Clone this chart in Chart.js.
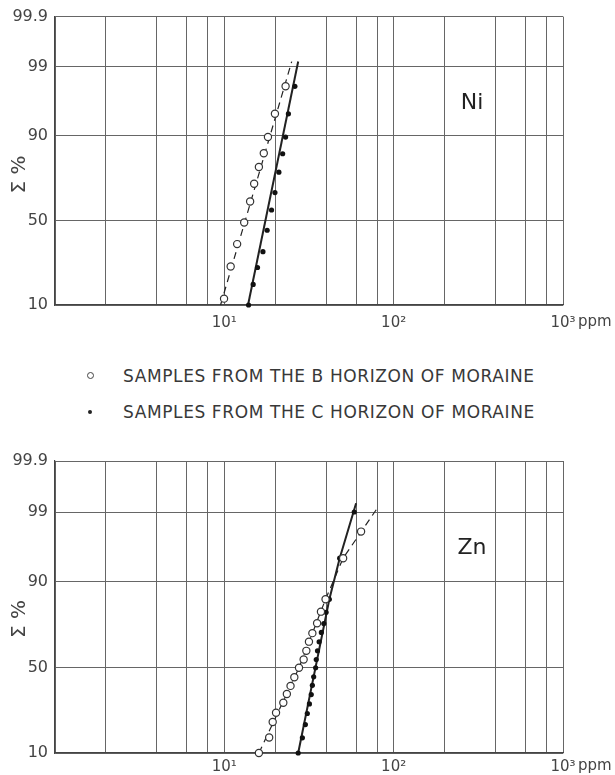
<!DOCTYPE html>
<html lang="en">
<head>
<meta charset="utf-8">
<title>Ni and Zn in moraine</title>
<style>
    body { margin: 0; background: #fff; width: 615px; height: 775px; position: relative; overflow: hidden; font-family: "DejaVu Sans", sans-serif; }
    canvas { position: absolute; left: 0; }
    #niChart { top: 0; }
    #znChart { top: 440px; }
    .row { position: absolute; left: 123px; white-space: nowrap; font-size: 17px; line-height: 20px; letter-spacing: 0.6px; color: #383838; }
    .mark { position: absolute; box-sizing: border-box; border-radius: 50%; }
</style>
</head>
<body>

<canvas id="niChart" width="615" height="340"></canvas>

<div class="mark" style="left:86.5px; top:371.5px; width:7px; height:7px; border:1.1px solid #444; background:#fff;"></div>
<div class="row" style="top:366px;">SAMPLES FROM THE B HORIZON OF MORAINE</div>
<div class="mark" style="left:88px; top:410px; width:4px; height:4px; background:#222;"></div>
<div class="row" style="top:402px;">SAMPLES FROM THE C HORIZON OF MORAINE</div>

<canvas id="znChart" width="615" height="335"></canvas>

<script src="https://cdn.jsdelivr.net/npm/chart.js"></script>
<script>
    // axes
    var xGrid = [1, 2, 4, 6, 8, 10, 20, 40, 60, 80, 100, 200, 400, 600, 800, 1000];
    var xTickText = { 10: '10¹', 100: '10²', 1000: '10³' };
    var yTicks = [10, 50, 90, 99, 99.9];
    var yTickText = ['10', '50', '90', '99', '99.9'];

    // Ni, B horizon (open circles) and C horizon (dots): ppm vs cumulative %
    var niB_ppm = [9.96, 10.9, 11.9, 13.1, 14.2, 15.0, 16.0, 17.1, 18.1, 19.9, 23.0];
    var niB_pct = [11.8, 24.3, 36.0, 48.8, 61.3, 71.1, 79.1, 84.6, 89.7, 94.7, 97.9];
    var niC_ppm = [13.9, 14.8, 15.7, 16.9, 17.9, 19.0, 19.9, 21.0, 22.1, 23.0, 23.9, 26.1];
    var niC_pct = [10, 16.6, 23.8, 31.8, 44.1, 56.3, 66.4, 76.8, 84.4, 89.7, 94.7, 97.9];
    var niB_line_ppm = [9.5, 25.0];
    var niB_line_pct = [10, 99.2];
    var niC_line_ppm = [13.8, 27.3];
    var niC_line_pct = [10, 99.2];

    // Zn
    var znB_ppm = [16.0, 18.4, 19.3, 20.2, 22.3, 23.4, 24.6, 25.9, 27.6, 29.4, 30.5, 31.6, 33.1, 35.3, 37.2, 39.6, 50.3, 64.2];
    var znB_pct = [10, 14.7, 20.7, 24.9, 29.8, 34.5, 39.1, 44.1, 49.8, 54.7, 59.8, 65.0, 69.6, 74.6, 79.8, 84.6, 94.9, 97.9];
    var znC_ppm = [27.3, 28.9, 30.1, 30.9, 31.8, 32.6, 33.1, 33.7, 34.6, 34.9, 35.5, 36.3, 37.4, 38.7, 39.9, 41.7, 48.0, 58.5];
    var znC_pct = [10, 14.6, 19.6, 24.5, 29.2, 34.2, 39.4, 44.4, 49.8, 54.7, 59.8, 64.9, 70.0, 74.4, 79.5, 84.6, 94.9, 99.0];
    var znB_line_ppm = [16.0, 27.6, 39.6, 50.3, 81.3];
    var znB_line_pct = [10, 49.8, 84.6, 94.9, 99.2];
    var znC_line_ppm = [27.3, 41.7, 48.0, 60.0];
    var znC_line_pct = [10, 84.6, 94.9, 99.3];

    // inverse normal cdf (Acklam) -> probability paper y
    function probit(pct) {
        var p = pct / 100;
        var a = [-3.969683028665376e+01, 2.209460984245205e+02, -2.759285104469687e+02, 1.383577518672690e+02, -3.066479806614716e+01, 2.506628277459239e+00];
        var b = [-5.447609879822406e+01, 1.615858368580409e+02, -1.556989798598866e+02, 6.680131188771972e+01, -1.328068155288572e+01];
        var c = [-7.784894002430293e-03, -3.223964580411365e-01, -2.400758277161838e+00, -2.549732539343734e+00, 4.374664141464968e+00, 2.938163982698783e+00];
        var d = [7.784695709041462e-03, 3.224671290700398e-01, 2.445134137142996e+00, 3.754408661907416e+00];
        var q, r;
        if (p < 0.02425) {
            q = Math.sqrt(-2 * Math.log(p));
            return (((((c[0]*q+c[1])*q+c[2])*q+c[3])*q+c[4])*q+c[5]) / ((((d[0]*q+d[1])*q+d[2])*q+d[3])*q+1);
        }
        if (p > 1 - 0.02425) {
            q = Math.sqrt(-2 * Math.log(1 - p));
            return -(((((c[0]*q+c[1])*q+c[2])*q+c[3])*q+c[4])*q+c[5]) / ((((d[0]*q+d[1])*q+d[2])*q+d[3])*q+1);
        }
        q = p - 0.5; r = q * q;
        return (((((a[0]*r+a[1])*r+a[2])*r+a[3])*r+a[4])*r+a[5])*q / (((((b[0]*r+b[1])*r+b[2])*r+b[3])*r+b[4])*r+1);
    }

    function pts(xs, ys) {
        return xs.map(function (x, i) { return { x: x, y: probit(ys[i]) }; });
    }

    function openDots(xs, ys) {
        return { data: pts(xs, ys), pointStyle: 'circle', pointRadius: 3.6, pointBackgroundColor: '#fff',
                 pointBorderColor: '#333', pointBorderWidth: 1.2, showLine: false, clip: false, order: 0 };
    }
    function fullDots(xs, ys) {
        return { data: pts(xs, ys), pointStyle: 'circle', pointRadius: 2.6, pointBackgroundColor: '#111',
                 pointBorderColor: '#111', pointBorderWidth: 0, showLine: false, clip: false, order: 0 };
    }
    function fitLine(xs, ys, dashed) {
        return { data: pts(xs, ys), showLine: true, pointRadius: 0, borderColor: '#222',
                 borderWidth: dashed ? 1.2 : 2, borderDash: dashed ? [7, 5] : [], tension: 0, clip: false, order: 1 };
    }

    Chart.defaults.font.family = "'DejaVu Sans', sans-serif";

    function makePanel(id, name, datasets, topPad, xHeight, labelPad) {
        var textPlugin = {
            id: 'panelText',
            afterDraw: function (chart) {
                var ctx = chart.ctx, a = chart.chartArea;
                ctx.save();
                ctx.fillStyle = '#222';
                ctx.font = "22px 'DejaVu Sans'";
                ctx.textAlign = 'center';
                ctx.textBaseline = 'middle';
                ctx.fillText(name, 472, a.top + 87);
                ctx.fillStyle = '#444';
                ctx.font = "15px 'DejaVu Sans'";
                ctx.textAlign = 'left';
                ctx.textBaseline = 'alphabetic';
                ctx.fillText('ppm', a.right + 15, a.bottom + labelPad + 12);
                ctx.translate(20, a.top + 158);
                ctx.rotate(-Math.PI / 2);
                ctx.textAlign = 'center';
                ctx.textBaseline = 'middle';
                ctx.font = "20px 'DejaVu Sans'";
                ctx.fillText('Σ %', 0, 0);
                ctx.restore();
            }
        };

        return new Chart(document.getElementById(id), {
            type: 'scatter',
            data: { datasets: datasets },
            plugins: [textPlugin],
            options: {
                responsive: false,
                animation: false,
                layout: { padding: { left: 0, right: 52, top: topPad, bottom: 0 } },
                plugins: { legend: { display: false }, tooltip: { enabled: false } },
                scales: {
                    x: {
                        type: 'logarithmic',
                        min: 1,
                        max: 1000,
                        afterBuildTicks: function (s) { s.ticks = xGrid.map(function (v) { return { value: v }; }); },
                        afterFit: function (s) { s.height = xHeight; },
                        ticks: {
                            autoSkip: false, maxRotation: 0, padding: labelPad, color: '#444',
                            font: { size: 15 },
                            callback: function (v) { return xTickText[v] || ''; }
                        },
                        grid: { color: '#666', lineWidth: 1, drawTicks: false },
                        border: { color: '#444', width: 1.2 }
                    },
                    y: {
                        type: 'linear',
                        min: probit(10),
                        max: probit(99.9),
                        afterBuildTicks: function (s) { s.ticks = yTicks.map(function (p) { return { value: probit(p) }; }); },
                        afterFit: function (s) { s.width = 55; },
                        ticks: {
                            autoSkip: false, padding: 7, color: '#444',
                            font: { size: 16 },
                            callback: function (v, i) { return yTickText[i]; }
                        },
                        grid: { color: '#666', lineWidth: 1, drawTicks: false },
                        border: { color: '#444', width: 1.2 }
                    }
                }
            }
        });
    }

    makePanel('niChart', 'Ni', [
        fitLine(niB_line_ppm, niB_line_pct, true),
        fitLine(niC_line_ppm, niC_line_pct, false),
        openDots(niB_ppm, niB_pct),
        fullDots(niC_ppm, niC_pct)
    ], 13, 35, 9);

    makePanel('znChart', 'Zn', [
        fitLine(znB_line_ppm, znB_line_pct, true),
        fitLine(znC_line_ppm, znC_line_pct, false),
        openDots(znB_ppm, znB_pct),
        fullDots(znC_ppm, znC_pct)
    ], 21, 22, 5);
</script>
</body>
</html>
